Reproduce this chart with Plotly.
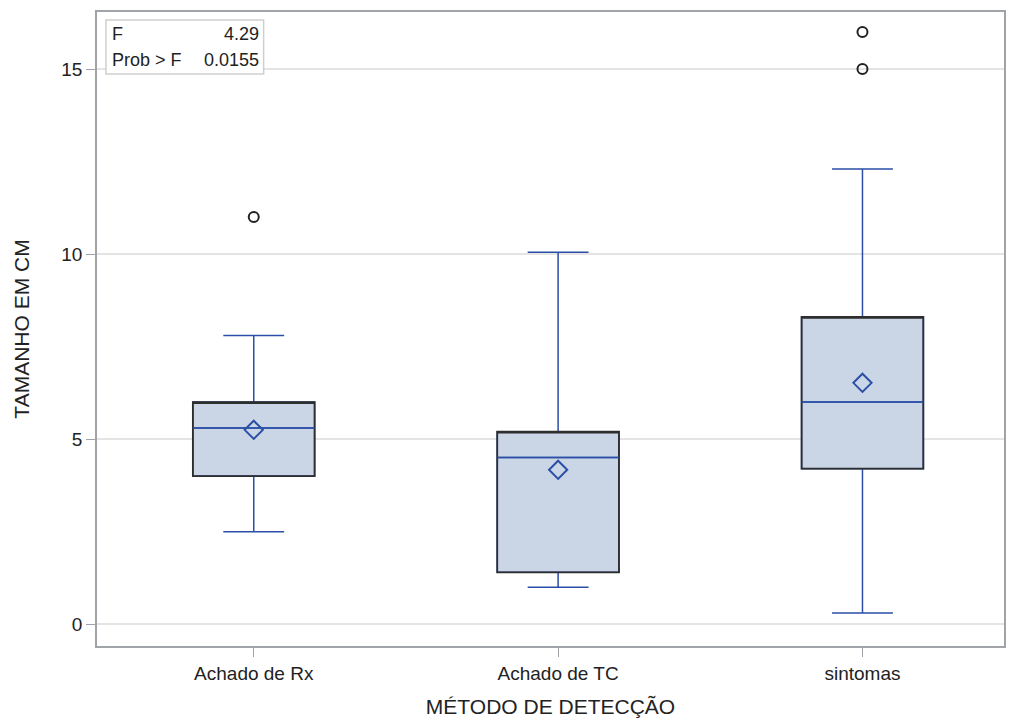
import plotly.graph_objects as go

categories = ["Achado de Rx", "Achado de TC", "sintomas"]
q1 = [4.0, 1.4, 4.2]
median = [5.3, 4.5, 6.0]
q3 = [6.0, 5.2, 8.3]
lower = [2.5, 1.0, 0.3]
upper = [7.8, 10.05, 12.3]
means = [5.25, 4.17, 6.52]
outlier_cat = ["Achado de Rx", "sintomas", "sintomas"]
outlier_val = [11.0, 15.0, 16.0]
y_ticks = [0, 5, 10, 15]

BLUE = "#2B4FA6"
DARK = "#2E2E2E"
FILL = "#CAD5E5"
FONT = "Liberation Sans, Arial, sans-serif"

fig = go.Figure()
# whiskers, median (blue)
fig.add_trace(go.Box(
    x=categories, q1=q1, median=median, q3=q3,
    lowerfence=lower, upperfence=upper,
    fillcolor=FILL, line=dict(color=BLUE, width=1.5),
    width=0.4, whiskerwidth=0.5, boxpoints=False, showlegend=False,
    hoverinfo="skip",
))
# box outline (dark)
fig.add_trace(go.Box(
    x=categories, q1=q1, median=q3, q3=q3,
    lowerfence=q1, upperfence=q3,
    fillcolor="rgba(0,0,0,0)", line=dict(color=DARK, width=1.8),
    width=0.4, whiskerwidth=0, boxpoints=False, showlegend=False,
    hoverinfo="skip",
))
# redraw median on top
fig.add_trace(go.Box(
    x=categories, q1=median, median=median, q3=median,
    lowerfence=median, upperfence=median,
    fillcolor="rgba(0,0,0,0)", line=dict(color=BLUE, width=1.5),
    width=0.4, whiskerwidth=0, boxpoints=False, showlegend=False,
    hoverinfo="skip",
))
fig.add_trace(go.Scatter(
    x=categories, y=means, mode="markers",
    marker=dict(symbol="diamond-open", size=14, color=BLUE, line=dict(width=2, color=BLUE)),
    showlegend=False,
))
fig.add_trace(go.Scatter(
    x=outlier_cat, y=outlier_val, mode="markers",
    marker=dict(symbol="circle-open", size=10, color="#222", line=dict(width=2, color="#222")),
    showlegend=False,
))

fig.update_layout(
    width=1009, height=721,
    margin=dict(l=97, r=3, t=12, b=75),
    paper_bgcolor="white", plot_bgcolor="white",
    boxmode="overlay",
    font=dict(family=FONT, size=19, color="#222"),
    xaxis=dict(
        type="category", categoryorder="array", categoryarray=categories,
        range=[-0.515, 2.465],
        showline=True, linecolor="#A0A4A8", linewidth=1.5, mirror=True,
        ticks="outside", ticklen=9, tickcolor="#A0A4A8",
        tickfont=dict(size=19),
        showgrid=False,
        title=dict(text="MÉTODO DE DETECÇÃO", font=dict(size=21), standoff=17),
    ),
    yaxis=dict(
        range=[-0.59, 16.54],
        tickvals=y_ticks,
        showline=True, linecolor="#A0A4A8", linewidth=1.5, mirror=True,
        ticks="outside", ticklen=9, tickcolor="#A0A4A8",
        tickfont=dict(size=19),
        showgrid=True, gridcolor="#E4E4E4", gridwidth=1.5, zeroline=False,
        title=dict(text="TAMANHO EM CM", font=dict(size=21), standoff=26),
    ),
)

# inset statistics box
x0 = (106 - 97) / 909
x1 = (264 - 97) / 909
y_top = 1 - (20 - 12) / 634
y_bot = 1 - (74 - 12) / 634
fig.add_shape(type="rect", xref="paper", yref="paper", x0=x0, x1=x1, y0=y_bot, y1=y_top,
              line=dict(color="#CFCFCF", width=1.5), fillcolor="white", layer="above")
rows = [("F", "4.29"), ("Prob > F", "0.0155")]
for i, (lab, val) in enumerate(rows):
    yc = 1 - ((34 if i == 0 else 60) - 12) / 634
    fig.add_annotation(xref="paper", yref="paper", x=(110 - 97) / 909, y=yc, text=lab,
                       showarrow=False, xanchor="left", yanchor="middle", font=dict(size=18))
    fig.add_annotation(xref="paper", yref="paper", x=(261 - 97) / 909, y=yc, text=val,
                       showarrow=False, xanchor="right", yanchor="middle", font=dict(size=18))

fig.write_html("out.html")
